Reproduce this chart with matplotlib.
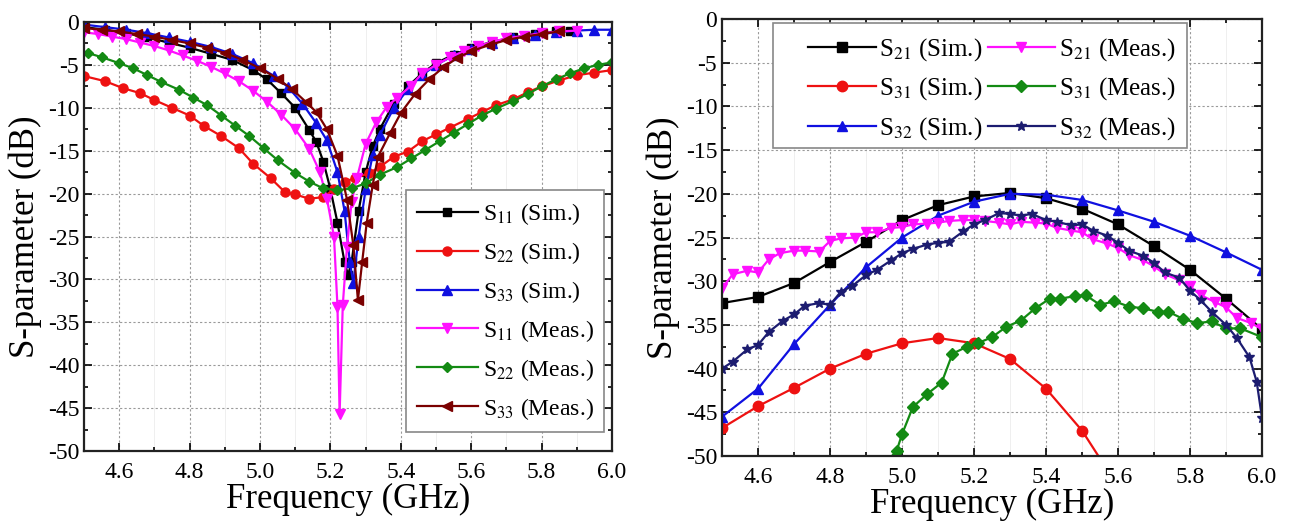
import matplotlib
matplotlib.use("Agg")
import matplotlib.pyplot as plt
from matplotlib.patches import Rectangle
from matplotlib.ticker import MultipleLocator

plt.rcParams["font.family"] = ["Liberation Serif", "DejaVu Serif"]
plt.rcParams["mathtext.fontset"] = "stix"
plt.rcParams["axes.unicode_minus"] = False

# ---- left panel: reflection coefficients ----
f_s11_sim = [4.50, 4.56, 4.62, 4.68, 4.74, 4.80, 4.86, 4.92, 4.98, 5.02, 5.06, 5.10, 5.14, 5.16,
             5.18, 5.20, 5.22, 5.24, 5.25, 5.26, 5.28, 5.30, 5.32, 5.34, 5.38, 5.42, 5.46, 5.50,
             5.55, 5.60, 5.66, 5.72, 5.78, 5.84, 5.88]
s11_sim = [-0.6, -0.9, -1.3, -1.8, -2.4, -3.0, -3.7, -4.4, -5.6, -6.7, -8.3, -10.0, -12.6, -14.0,
           -16.3, -19.5, -23.4, -28.0, -29.5, -28.0, -22.0, -17.5, -14.5, -12.5, -9.5, -7.5, -6.0, -4.8,
           -3.8, -3.0, -2.3, -1.8, -1.4, -1.1, -1.0]

f_s22_sim = [4.50, 4.56, 4.61, 4.66, 4.70, 4.75, 4.80, 4.84, 4.89, 4.94, 4.98, 5.03, 5.07, 5.10,
             5.14, 5.18, 5.21, 5.24, 5.27, 5.31, 5.34, 5.38, 5.42, 5.46, 5.50, 5.54, 5.59, 5.63,
             5.67, 5.72, 5.76, 5.80, 5.85, 5.90, 5.95, 6.00]
s22_sim = [-6.3, -6.9, -7.7, -8.3, -9.1, -10.0, -10.9, -12.1, -13.3, -14.7, -16.5, -18.2, -19.8, -20.1,
           -20.6, -20.4, -19.5, -18.6, -18.2, -17.6, -16.9, -15.7, -15.1, -13.9, -13.1, -12.3, -11.3, -10.5,
           -9.7, -9.0, -8.2, -7.5, -6.8, -6.2, -5.9, -5.6]

f_s33_sim = [4.50, 4.56, 4.62, 4.68, 4.74, 4.80, 4.86, 4.92, 4.98, 5.04, 5.08, 5.12, 5.16, 5.19,
             5.22, 5.24, 5.255, 5.265, 5.28, 5.30, 5.32, 5.34, 5.38, 5.42, 5.46, 5.50, 5.55, 5.60,
             5.66, 5.72, 5.78, 5.84, 5.90, 5.95, 6.00]
s33_sim = [-0.3, -0.6, -0.9, -1.3, -1.8, -2.3, -2.9, -3.7, -4.8, -6.3, -7.6, -9.5, -11.8, -13.8,
           -17.5, -22.0, -28.0, -30.4, -25.0, -19.5, -15.5, -13.2, -10.0, -7.8, -6.2, -5.0, -3.9, -3.1,
           -2.4, -1.9, -1.5, -1.2, -1.0, -0.9, -0.9]

f_s11_meas = [4.50, 4.54, 4.58, 4.62, 4.66, 4.70, 4.74, 4.78, 4.82, 4.86, 4.90, 4.94, 4.98, 5.02,
              5.06, 5.10, 5.14, 5.17, 5.19, 5.21, 5.22, 5.226, 5.235, 5.247, 5.26, 5.275, 5.30, 5.33,
              5.36, 5.39, 5.43, 5.46, 5.50, 5.54, 5.58, 5.62, 5.66, 5.70, 5.75, 5.80, 5.85, 5.90]
s11_meas = [-1.2, -1.4, -1.7, -2.0, -2.4, -2.8, -3.3, -3.9, -4.5, -5.2, -6.0, -6.9, -8.0, -9.3,
            -10.8, -12.5, -14.8, -17.5, -20.6, -25.0, -33.2, -45.7, -33.0, -26.2, -21.0, -18.2, -14.2, -11.7,
            -9.9, -8.8, -7.4, -6.0, -5.0, -4.1, -3.4, -2.8, -2.3, -1.9, -1.6, -1.3, -1.1, -1.0]

f_s22_meas = [4.51, 4.55, 4.60, 4.64, 4.68, 4.72, 4.77, 4.81, 4.85, 4.89, 4.93, 4.97, 5.01, 5.05,
              5.10, 5.14, 5.18, 5.22, 5.26, 5.30, 5.34, 5.39, 5.43, 5.47, 5.51, 5.55, 5.59, 5.63,
              5.67, 5.72, 5.76, 5.80, 5.84, 5.88, 5.92, 5.96, 6.00]
s22_meas = [-3.6, -4.1, -4.8, -5.4, -6.2, -7.0, -7.9, -8.8, -9.7, -10.9, -12.1, -13.3, -14.7, -16.1,
            -17.6, -18.6, -19.4, -19.6, -19.4, -18.8, -17.8, -16.9, -15.9, -14.9, -13.9, -12.9, -11.9, -10.9,
            -10.1, -9.2, -8.4, -7.5, -6.7, -6.0, -5.4, -5.0, -4.7]

f_s33_meas = [4.50, 4.55, 4.60, 4.65, 4.70, 4.75, 4.80, 4.85, 4.90, 4.95, 5.00, 5.05, 5.09, 5.13,
              5.16, 5.19, 5.22, 5.247, 5.265, 5.278, 5.29, 5.303, 5.32, 5.335, 5.37, 5.40, 5.44, 5.48,
              5.52, 5.56, 5.60, 5.65, 5.70, 5.75, 5.80, 5.85]
s33_meas = [-0.7, -0.9, -1.1, -1.4, -1.7, -2.1, -2.5, -3.0, -3.6, -4.4, -5.4, -6.6, -7.8, -9.3,
            -10.5, -12.5, -15.6, -20.7, -26.0, -32.4, -28.0, -23.4, -19.0, -15.7, -12.9, -10.6, -8.4, -6.7,
            -5.3, -4.2, -3.4, -2.7, -2.1, -1.7, -1.4, -1.1]

# ---- right panel: transmission coefficients ----
f_sim = [4.5, 4.6, 4.7, 4.8, 4.9, 5.0, 5.1, 5.2, 5.3, 5.4, 5.5, 5.6, 5.7, 5.8, 5.9, 6.0]
s21_sim = [-32.5, -31.8, -30.2, -27.8, -25.5, -23.0, -21.3, -20.3, -19.9, -20.5, -21.7, -23.5,
           -26.0, -28.7, -32.0, -35.5]
s32_sim = [-45.5, -42.3, -37.2, -32.7, -28.4, -25.0, -22.5, -20.9, -20.0, -20.1, -20.7, -21.9,
           -23.2, -24.8, -26.7, -28.7]
f_s31_sim = [4.5, 4.6, 4.7, 4.8, 4.9, 5.0, 5.1, 5.2, 5.3, 5.4, 5.5, 5.6]
s31_sim = [-46.8, -44.3, -42.2, -40.0, -38.3, -37.1, -36.5, -37.1, -38.9, -42.3, -47.1, -53.5]

f_s21_meas = [4.50, 4.53, 4.57, 4.60, 4.63, 4.66, 4.70, 4.73, 4.77, 4.80, 4.83, 4.87, 4.90, 4.93,
              4.97, 5.00, 5.03, 5.07, 5.10, 5.13, 5.17, 5.20, 5.23, 5.27, 5.30, 5.33, 5.37, 5.40,
              5.43, 5.47, 5.50, 5.53, 5.57, 5.60, 5.63, 5.67, 5.70, 5.73, 5.77, 5.80, 5.83, 5.87,
              5.90, 5.93, 5.97, 6.00]
s21_meas = [-30.8, -29.2, -28.8, -29.0, -27.5, -26.8, -26.5, -26.5, -26.6, -25.4, -25.1, -25.0, -24.4, -24.4,
            -23.9, -23.8, -23.5, -23.4, -23.3, -23.1, -23.0, -23.0, -23.1, -23.3, -23.5, -23.2, -23.3, -23.4,
            -23.9, -24.2, -24.4, -25.2, -25.7, -26.2, -27.0, -27.6, -28.3, -29.2, -29.9, -30.6, -31.6, -32.4,
            -33.0, -34.2, -34.8, -35.5]

f_s31_meas = [4.95, 4.985, 5.00, 5.03, 5.07, 5.11, 5.14, 5.18, 5.21, 5.25, 5.29, 5.33, 5.37, 5.41,
              5.44, 5.48, 5.51, 5.55, 5.59, 5.63, 5.67, 5.71, 5.74, 5.78, 5.82, 5.86, 5.90, 5.94, 6.00]
s31_meas = [-51.0, -49.4, -47.5, -44.4, -42.9, -41.6, -38.3, -37.5, -37.1, -36.4, -35.2, -34.5, -33.1, -32.0,
            -32.0, -31.7, -31.6, -32.7, -32.3, -32.9, -33.1, -33.5, -33.5, -34.3, -34.8, -34.6, -35.4, -35.4, -36.4]

f_s32_meas = [4.50, 4.53, 4.57, 4.60, 4.63, 4.67, 4.70, 4.73, 4.77, 4.80, 4.83, 4.86, 4.90, 4.93,
              4.97, 5.00, 5.03, 5.07, 5.10, 5.13, 5.17, 5.20, 5.23, 5.27, 5.30, 5.33, 5.36, 5.40,
              5.43, 5.47, 5.50, 5.53, 5.57, 5.60, 5.63, 5.67, 5.70, 5.73, 5.77, 5.80, 5.83, 5.86,
              5.90, 5.93, 5.965, 5.985, 6.00]
s32_meas = [-40.0, -39.2, -37.8, -37.3, -35.8, -34.5, -33.8, -32.8, -32.5, -32.7, -31.2, -30.6, -29.3, -28.7,
            -27.6, -26.8, -26.3, -25.8, -25.6, -25.5, -24.3, -23.5, -23.0, -22.2, -22.3, -22.5, -22.3, -23.0,
            -23.2, -23.6, -23.5, -24.2, -24.8, -25.6, -26.5, -27.1, -27.9, -29.0, -29.6, -31.1, -32.2, -33.5,
            -35.0, -36.5, -38.7, -41.5, -45.7]

BLACK = "#000000"
RED = "#ee1111"
BLUE = "#1010e0"
MAGENTA = "#ff10ff"
GREEN = "#138a13"
DARKRED = "#7a0000"
NAVY = "#1c1c70"

fig = plt.figure(figsize=(12.91, 5.29), dpi=100)
ax1 = fig.add_axes([0.0651, 0.1474, 0.409, 0.811])
ax2 = fig.add_axes([0.5593, 0.138, 0.4183, 0.826])

lw = 1.6
ms = 6.5
ms2 = 7.5

ax1.plot(f_s11_sim, s11_sim, color=BLACK, marker="s", ms=ms - 0.5, lw=lw, label=r"S$_{11}$ (Sim.)")
ax1.plot(f_s22_sim, s22_sim, color=RED, marker="o", ms=ms, lw=lw, label=r"S$_{22}$ (Sim.)")
ax1.plot(f_s33_sim, s33_sim, color=BLUE, marker="^", ms=ms, lw=lw, label=r"S$_{33}$ (Sim.)")
ax1.plot(f_s11_meas, s11_meas, color=MAGENTA, marker="v", ms=ms, lw=lw, label=r"S$_{11}$ (Meas.)")
ax1.plot(f_s22_meas, s22_meas, color=GREEN, marker="D", ms=ms - 1, lw=lw, label=r"S$_{22}$ (Meas.)")
ax1.plot(f_s33_meas, s33_meas, color=DARKRED, marker="<", ms=ms, lw=lw, label=r"S$_{33}$ (Meas.)")

ax2.plot(f_sim, s21_sim, color=BLACK, marker="s", ms=ms2 - 1, lw=lw, label=r"S$_{21}$ (Sim.)")
ax2.plot(f_s31_sim, s31_sim, color=RED, marker="o", ms=ms2, lw=lw, label=r"S$_{31}$ (Sim.)")
ax2.plot(f_sim, s32_sim, color=BLUE, marker="^", ms=ms2, lw=lw, label=r"S$_{32}$ (Sim.)")
ax2.plot(f_s21_meas, s21_meas, color=MAGENTA, marker="v", ms=ms2, lw=lw, label=r"S$_{21}$ (Meas.)")
ax2.plot(f_s31_meas, s31_meas, color=GREEN, marker="D", ms=ms2 - 1.5, lw=lw, label=r"S$_{31}$ (Meas.)")
ax2.plot(f_s32_meas, s32_meas, color=NAVY, marker="*", ms=ms2, lw=lw, label=r"S$_{32}$ (Meas.)")

for ax in (ax1, ax2):
    ax.set_xlim(4.5, 6.0)
    ax.set_ylim(-50, 0)
    ax.xaxis.set_minor_locator(MultipleLocator(0.1))
    ax.yaxis.set_minor_locator(MultipleLocator(2.5))
    ax.set_xticks([4.6, 4.8, 5.0, 5.2, 5.4, 5.6, 5.8, 6.0])
    ax.set_xticklabels(["4.6", "4.8", "5.0", "5.2", "5.4", "5.6", "5.8", "6.0"])
    ax.set_yticks(list(range(-50, 1, 5)))
    ax.set_yticklabels([str(v) for v in range(-50, 1, 5)])
    ax.grid(True, which="major", color="#9a9a9a", linestyle=(0, (2, 2)), linewidth=0.8)
    ax.grid(True, which="minor", axis="x", color="#ececec", linestyle="-", linewidth=0.6)
    ax.set_axisbelow(True)
    ax.tick_params(which="both", direction="in", top=True, right=True, labelsize=17, width=1.2)
    ax.tick_params(which="major", length=6)
    ax.tick_params(which="minor", length=3)
    ax.tick_params(axis="x", pad=8)
    for sp in ax.spines.values():
        sp.set_linewidth(1.6)
        sp.set_color("#222222")
    ax.set_xlabel("Frequency (GHz)", fontsize=25, labelpad=0)
    ax.set_ylabel("S-parameter (dB)", fontsize=25, labelpad=4)

leg1 = ax1.legend(loc="lower right", bbox_to_anchor=(0.985, 0.044), borderaxespad=0,
                  fontsize=17, handlelength=2.6, handletextpad=0.2, labelspacing=0.55,
                  borderpad=0.45, fancybox=False, edgecolor="#888888", framealpha=1)
leg1.get_frame().set_linewidth(1.2)

# wide legend frame of the right panel
ax2.add_patch(Rectangle((0.094, 0.705), 0.767, 0.285, transform=ax2.transAxes,
                        facecolor="white", edgecolor="#888888", linewidth=1.2, zorder=4))
ax2.legend(loc="center", bbox_to_anchor=(0.50, 0.84), ncol=2, frameon=False,
           fontsize=18, handlelength=2.7, handletextpad=0.15, columnspacing=0.2,
           labelspacing=0.5)

fig.savefig("out.png", dpi=100)
